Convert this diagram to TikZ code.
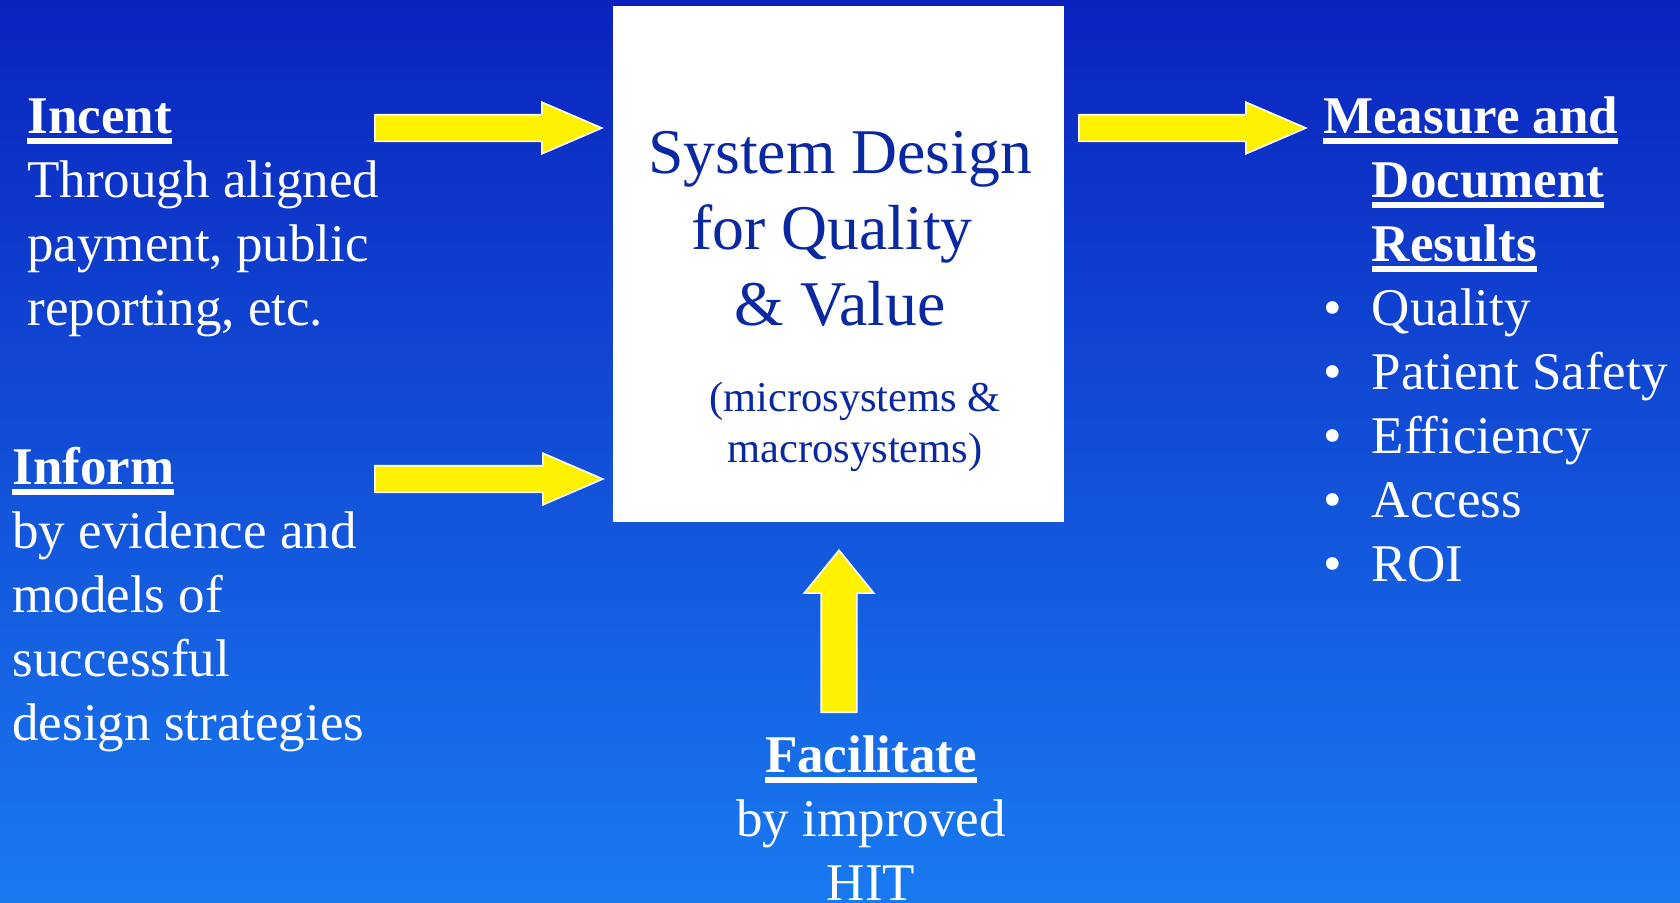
\documentclass[tikz,border=0pt]{standalone}
\usepackage{fontspec}
\setmainfont{Liberation Serif}
\usepackage{tikz}
\usetikzlibrary{shapes.arrows}
\definecolor{bgtop}{RGB}{10,35,190}
\definecolor{bgbottom}{RGB}{25,122,240}
\definecolor{boxblue}{RGB}{10,40,160}
\newsavebox\headbox
\newcommand\headul[1]{\sbox\headbox{\textbf{#1}}\rlap{\vrule width\wd\headbox height -2.6pt depth 5.3pt}\usebox\headbox}

\begin{document}
\begin{tikzpicture}[x=0.5pt,y=-0.5pt,
	sysbox/.style={rectangle, fill=white, minimum width=225.5pt, minimum height=258pt, inner sep=0pt},
	boxtitle/.style={text=boxblue, font=\fontsize{31.85pt}{38pt}\selectfont, align=center, inner sep=0pt},
	boxsub/.style={text=boxblue, font=\fontsize{21.25pt}{25.5pt}\selectfont, align=center, inner sep=0pt},
	sidetext/.style={text=white, font=\fontsize{26.5pt}{32pt}\selectfont, align=left, inner sep=0pt},
	fatarrow/.style={single arrow, fill=yellow, draw=white, line width=0.8pt, inner xsep=0pt, inner ysep=6.25pt,
		single arrow head extend=6.25pt, single arrow tip angle=46.6}]
			\shade [top color=bgtop, bottom color=bgbottom] (0,0) rectangle (1680,902);
			\useasboundingbox (0,0) rectangle (1680,902);
			\node [sysbox] (design) at (838.5,264) {};
			\node [boxtitle, anchor=base] (title) at (840,325) {System Design\\for Quality\rule{8pt}{0pt}\\\& Value};
			\node [boxsub, anchor=base] (scope) at (855,462) {(microsystems \&\\macrosystems)};
			\node [sidetext, anchor=base west] (incent) at (27,325) {\headul{Incent}\\Through aligned\\payment, public\\reporting, etc.};
			\node [sidetext, anchor=base west] (inform) at (12,740) {\headul{Inform}\\by evidence and\\models of\\successful\\design strategies};
			\node [sidetext, align=center, anchor=base] (facilitate) at (871,900) {\headul{Facilitate}\\by improved\\HIT};
			\node [sidetext, anchor=base west] (results) at (1323,581)
				{\headul{Measure and}\\\hspace*{24.25pt}\headul{Document}\\\hspace*{24.25pt}\headul{Results}\\
				\makebox[24.25pt][l]{\textbullet}Quality\\\makebox[24.25pt][l]{\textbullet}Patient Safety\\
				\makebox[24.25pt][l]{\textbullet}Efficiency\\\makebox[24.25pt][l]{\textbullet}Access\\\makebox[24.25pt][l]{\textbullet}ROI};
			\node [fatarrow, minimum height=113.5pt, anchor=tail] (incentarrow) at (374,128) {};
			\node [fatarrow, minimum height=114pt, anchor=tail] (informarrow) at (374,479) {};
			\node [fatarrow, minimum height=113.5pt, anchor=tail] (resultsarrow) at (1078,128) {};
			\node [fatarrow, minimum height=81pt, inner ysep=8.5pt, single arrow head extend=8.5pt,
				single arrow tip angle=78, rotate=90, anchor=tail] (hitarrow) at (839,713) {};
\end{tikzpicture}
\end{document}
